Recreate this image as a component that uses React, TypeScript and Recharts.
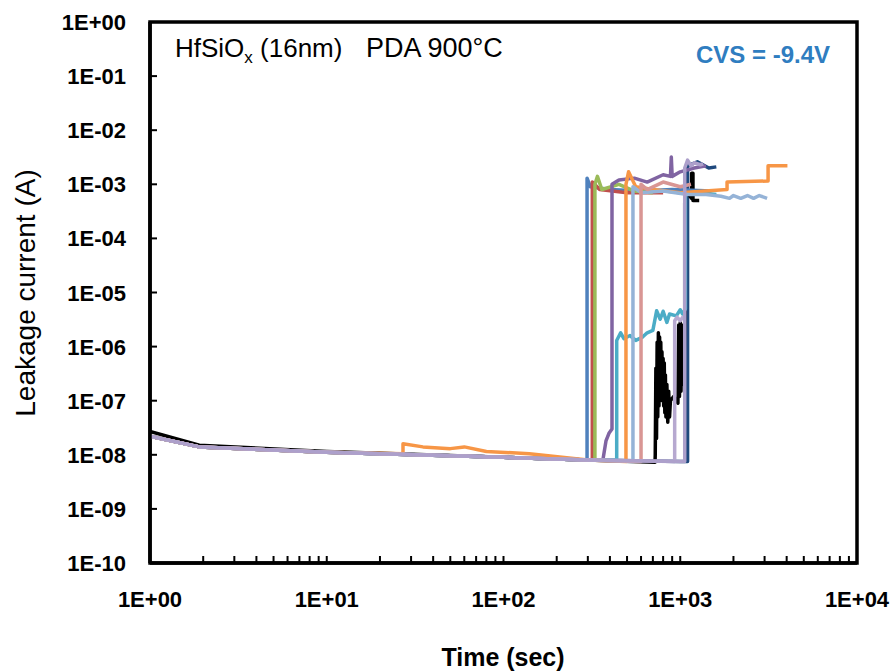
import React from "react";
import { LineChart, Line, XAxis, YAxis, ReferenceArea } from "recharts";

// time (s) vs leakage current (A)
type Pt = [number, number];

const freshBaseline: Pt[] = [
  [1, 2.2e-8], [1.9, 1.4e-8], [10, 1.12e-8], [100, 9e-9], [300, 8e-9], [1000, 7.5e-9],
];

const navyRun: Pt[] = [[1100, 7.5e-9], [1100, 2.2e-3], [1250, 2.6e-3], [1450, 2.0e-3], [1600, 2.1e-3]];
const blackRun: Pt[] = [
  [1, 2.7e-8], [1.9, 1.5e-8], [10, 1.15e-8], [100, 9e-9], [300, 8e-9], [720, 7.3e-9],
  [722, 1e-8], [728, 4e-7], [734, 2e-8], [740, 1.2e-6], [746, 5e-8], [752, 1.8e-6], [758, 8e-8],
  [764, 1.5e-6], [770, 1e-7], [776, 1.2e-6], [782, 1.2e-7], [788, 8e-7], [794, 1e-7], [800, 6e-7],
  [806, 8e-8], [812, 5e-7], [818, 6e-8], [824, 3e-7], [830, 5e-8], [840, 2e-7], [850, 4e-8],
  [860, 1.5e-7], [870, 5e-8], [880, 1e-7], [920, 1.2e-7], [970, 9e-8], [980, 2.5e-6], [990, 1.2e-7],
  [1000, 2.8e-6], [1010, 1.5e-7], [1020, 2.5e-6], [1030, 2e-7], [1040, 2e-6], [1050, 3e-7],
  [1060, 3e-6], [1060, 8e-4], [1160, 5.5e-4], [1160, 1.6e-3], [1180, 1.6e-3], [1180, 5e-4], [1280, 5e-4],
];
const blueRun: Pt[] = [[297, 8e-9], [297, 1.3e-3], [310, 9e-4], [400, 8e-4], [600, 7.5e-4], [900, 8e-4], [1500, 7.5e-4]];
const redRun: Pt[] = [[318, 8e-9], [318, 1.1e-3], [350, 8e-4], [500, 7e-4], [800, 7e-4]];
const greenRun: Pt[] = [[329, 8e-9], [329, 1.0e-3], [340, 1.4e-3], [360, 8e-4], [450, 1.0e-3], [550, 7.5e-4], [700, 7e-4]];
const purpleRun: Pt[] = [
  [365, 8e-9], [380, 1.8e-8], [395, 2.5e-8], [411, 3e-8], [411, 1.0e-3], [450, 1.2e-3], [550, 1.3e-3],
  [650, 1.1e-3], [800, 1.5e-3], [880, 1.4e-3], [890, 3.2e-3], [900, 1.4e-3], [1000, 1.7e-3],
  [1200, 2.0e-3], [1400, 2.2e-3],
];
const tealRun: Pt[] = [
  [437, 8e-9], [437, 1.3e-6], [460, 1.8e-6], [480, 1.4e-6], [520, 1.6e-6], [560, 1.3e-6], [612, 1.5e-6],
  [650, 1.8e-6], [700, 2e-6], [735, 4.6e-6], [770, 3.2e-6], [800, 4.5e-6], [840, 2.8e-6], [870, 4e-6],
  [950, 3.7e-6], [1000, 4.8e-6], [1030, 4e-6], [1070, 5e-6], [1070, 7e-4], [1300, 7e-4], [1600, 6.5e-4],
];
const orangeRun: Pt[] = [
  [27, 1.05e-8], [27, 1.6e-8], [35, 1.4e-8], [50, 1.3e-8], [60, 1.4e-8], [80, 1.15e-8], [140, 1.05e-8],
  [300, 8e-9], [493, 7.5e-9], [493, 1.0e-3], [510, 1.7e-3], [560, 9e-4], [700, 8e-4], [1000, 7e-4],
  [1840, 8e-4], [1840, 1.1e-3], [3140, 1.15e-3], [3140, 2.2e-3], [4040, 2.2e-3],
];
const lightBlueRun: Pt[] = [
  [540, 7.5e-9], [540, 9e-4], [600, 7e-4], [800, 7.5e-4], [1100, 6.5e-4], [1400, 6.5e-4], [1700, 6e-4],
  [1900, 5.5e-4], [2000, 6.2e-4], [2200, 5.5e-4], [2400, 6.2e-4], [2600, 5.5e-4], [2800, 6.2e-4], [3100, 5.5e-4],
];
const pinkRun: Pt[] = [[600, 7.5e-9], [600, 1.0e-3], [650, 8e-4], [800, 1.1e-3], [1000, 9e-4], [1150, 1.0e-3]];
const lilacRun: Pt[] = [[930, 7.5e-9], [930, 3e-6], [960, 3.5e-6], [1000, 3e-6], [1040, 3.6e-6]];
const lavenderRun: Pt[] = [[1060, 7.5e-9], [1060, 2.0e-3], [1100, 2.8e-3], [1150, 2.2e-3], [1200, 2.5e-3], [1300, 2.3e-3], [1350, 2.4e-3]];

const seriesColors = ["#1F497D", "#000000", "#4F81BD", "#C0504D", "#9BBB59", "#8064A2", "#4BACC6", "#F79646", "#95B3D7", "#D99694", "#B7A9D0", "#ADA0CB"];
const seriesRuns = [navyRun, blackRun, blueRun, redRun, greenRun, purpleRun, tealRun, orangeRun, lightBlueRun, pinkRun, lilacRun, lavenderRun];

const xMajorTicks = [1, 10, 100, 1000, 10000];
const xTickLabels = ["1E+00", "1E+01", "1E+02", "1E+03", "1E+04"];
const yMajorTicks = [1, 1e-1, 1e-2, 1e-3, 1e-4, 1e-5, 1e-6, 1e-7, 1e-8, 1e-9, 1e-10];
const yTickLabels = ["1E+00", "1E-01", "1E-02", "1E-03", "1E-04", "1E-05", "1E-06", "1E-07", "1E-08", "1E-09", "1E-10"];
const xAllTicks = xMajorTicks.slice(0, 4).flatMap((d) => [1, 2, 3, 4, 5, 6, 7, 8, 9].map((m) => m * d)).concat([10000]);

const font = "'Liberation Sans', Arial, sans-serif";

function toRows(run: Pt[], own: boolean) {
  const pts = own ? run : [...freshBaseline.filter((p) => p[0] < run[0][0]), ...run];
  return pts.map(([t, i]) => ({ t, i }));
}

const XTick = (props: any) => {
  const { x, y, payload } = props;
  const idx = xMajorTicks.indexOf(payload.value);
  return (
    <g>
      <line x1={x} x2={x} y1={y} y2={y - 7} stroke="#000" strokeWidth={2} />
      {idx >= 0 && (
        <text x={x} y={y + 44} textAnchor="middle" fontFamily={font} fontWeight="bold" fontSize={22} fill="#000">
          {xTickLabels[idx]}
        </text>
      )}
    </g>
  );
};

const YTick = (props: any) => {
  const { x, y, payload } = props;
  const idx = yMajorTicks.indexOf(payload.value);
  return (
    <g>
      <line x1={x} x2={x + 7} y1={y} y2={y} stroke="#000" strokeWidth={2} />
      <text x={x - 24} y={y + 8} textAnchor="end" fontFamily={font} fontWeight="bold" fontSize={22} fill="#000">
        {yTickLabels[idx]}
      </text>
    </g>
  );
};

export default function App() {
  return (
    <div style={{ position: "absolute", left: 0, top: 0, width: 894, height: 672, background: "#fff" }}>
      <LineChart width={894} height={672} margin={{ top: 22, right: 37, left: 90, bottom: 49 }}>
        <XAxis
          type="number"
          dataKey="t"
          scale="log"
          domain={[1, 10000]}
          ticks={xAllTicks}
          interval={0}
          tick={<XTick />}
          tickLine={false}
          tickSize={0}
          tickMargin={0}
          height={60}
          axisLine={{ stroke: "#000", strokeWidth: 3.5 }}
          allowDataOverflow
        />
        <YAxis
          type="number"
          dataKey="i"
          scale="log"
          domain={[1e-10, 1]}
          ticks={yMajorTicks}
          interval={0}
          tick={<YTick />}
          tickLine={false}
          tickSize={0}
          tickMargin={0}
          width={60}
          axisLine={{ stroke: "#000", strokeWidth: 3.5 }}
          allowDataOverflow
        />
        {seriesRuns.map((run, k) => (
          <Line
            key={k}
            data={toRows(run, k === 1)}
            dataKey="i"
            type="linear"
            stroke={seriesColors[k]}
            strokeWidth={3.5}
            strokeLinejoin="round"
            dot={false}
            activeDot={false}
            isAnimationActive={false}
          />
        ))}
        <ReferenceArea x1={1} x2={10000} y1={1e-10} y2={1} fill="none" stroke="#000" strokeWidth={3.5} />
      </LineChart>
      <svg width={894} height={672} style={{ position: "absolute", left: 0, top: 0, pointerEvents: "none" }}>
        <text x={175} y={57} fontFamily={font} fontSize={26} fill="#000">
          HfSiO<tspan fontSize={17} dy={6}>x</tspan>
          <tspan dy={-6}> (16nm)</tspan>
        </text>
        <text x={366} y={57} fontFamily={font} fontSize={27} fill="#000">PDA 900°C</text>
        <text x={830} y={63} textAnchor="end" fontFamily={font} fontWeight="bold" fontSize={24} fill="#2F7DC0">CVS = -9.4V</text>
        <text
          x={25}
          y={293}
          transform="rotate(-90 25 293)"
          textAnchor="middle"
          dominantBaseline="central"
          fontFamily={font}
          fontSize={28}
          fill="#000"
        >
          Leakage current (A)
        </text>
        <text x={503} y={666} textAnchor="middle" fontFamily={font} fontWeight="bold" fontSize={25} fill="#000">
          Time (sec)
        </text>
      </svg>
    </div>
  );
}
